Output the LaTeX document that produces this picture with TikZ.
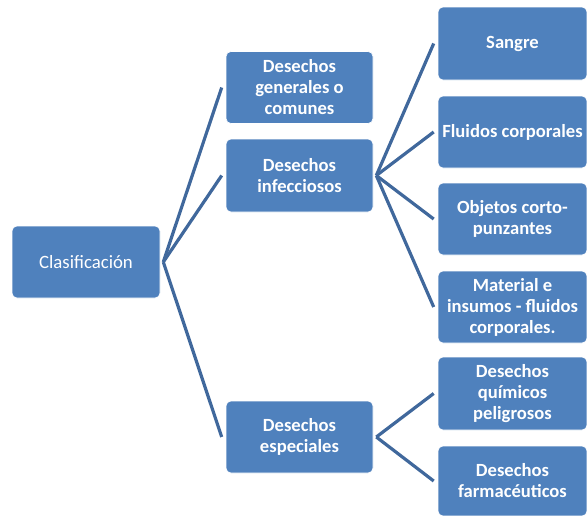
\documentclass[tikz,border=0pt]{standalone}
\usepackage{fontspec}
\setmainfont{Carlito}
\usetikzlibrary{calc}
\definecolor{boxblue}{RGB}{79,129,189}
\definecolor{lineblue}{RGB}{64,104,156}
\tikzset{
  box/.style={draw=white, line width=0.6pt, fill=boxblue, rounded corners=5pt, text=white, align=center,
    inner sep=1pt, font=\fontsize{18.6}{21}\selectfont\bfseries},
  conn/.style={draw=lineblue, line width=3.2pt}
}
\begin{document}
\begin{tikzpicture}[x=1pt,y=-1pt]
\useasboundingbox (0,0) rectangle (587,515);
\node[box, font=\fontsize{18.8}{21}\selectfont, minimum width=148, minimum height=72] (root) at (86,262) {Clasificación};
\node[box, minimum width=147, minimum height=72] (gen) at (299.5,87.5) {Desechos\\generales o\\comunes};
\node[box, minimum width=147, minimum height=73] (inf) at (299.5,175.5) {Desechos\\infecciosos};
\node[box, minimum width=147, minimum height=72] (esp) at (299.5,437) {Desechos\\especiales};
\node[box, minimum width=149, minimum height=73] (san) at (512.5,43.5) {Sangre};
\node[box, minimum width=149, minimum height=72] (flu) at (512.5,132) {Fluidos corporales};
\node[box, minimum width=149, minimum height=72] (obj) at (512.5,219) {Objetos corto-\\punzantes};
\node[box, minimum width=149, minimum height=72] (mat) at (512.5,307) {Material e\\insumos - fluidos\\corporales.};
\node[box, minimum width=149, minimum height=73] (qui) at (512.5,393.5) {Desechos\\químicos\\peligrosos};
\node[box, minimum width=149, minimum height=70] (far) at (512.5,481) {Desechos\\farmacéuticos};
\foreach \c in {gen,inf,esp}
  \draw[conn] ($(root.east)+(3,0)$) -- ($(\c.west)+(-4,0)$);
\foreach \c in {san,flu,obj,mat}
  \draw[conn] ($(inf.east)+(3,0)$) -- ($(\c.west)+(-4,0)$);
\foreach \c in {qui,far}
  \draw[conn] ($(esp.east)+(3,0)$) -- ($(\c.west)+(-4,0)$);
\end{tikzpicture}
\end{document}
